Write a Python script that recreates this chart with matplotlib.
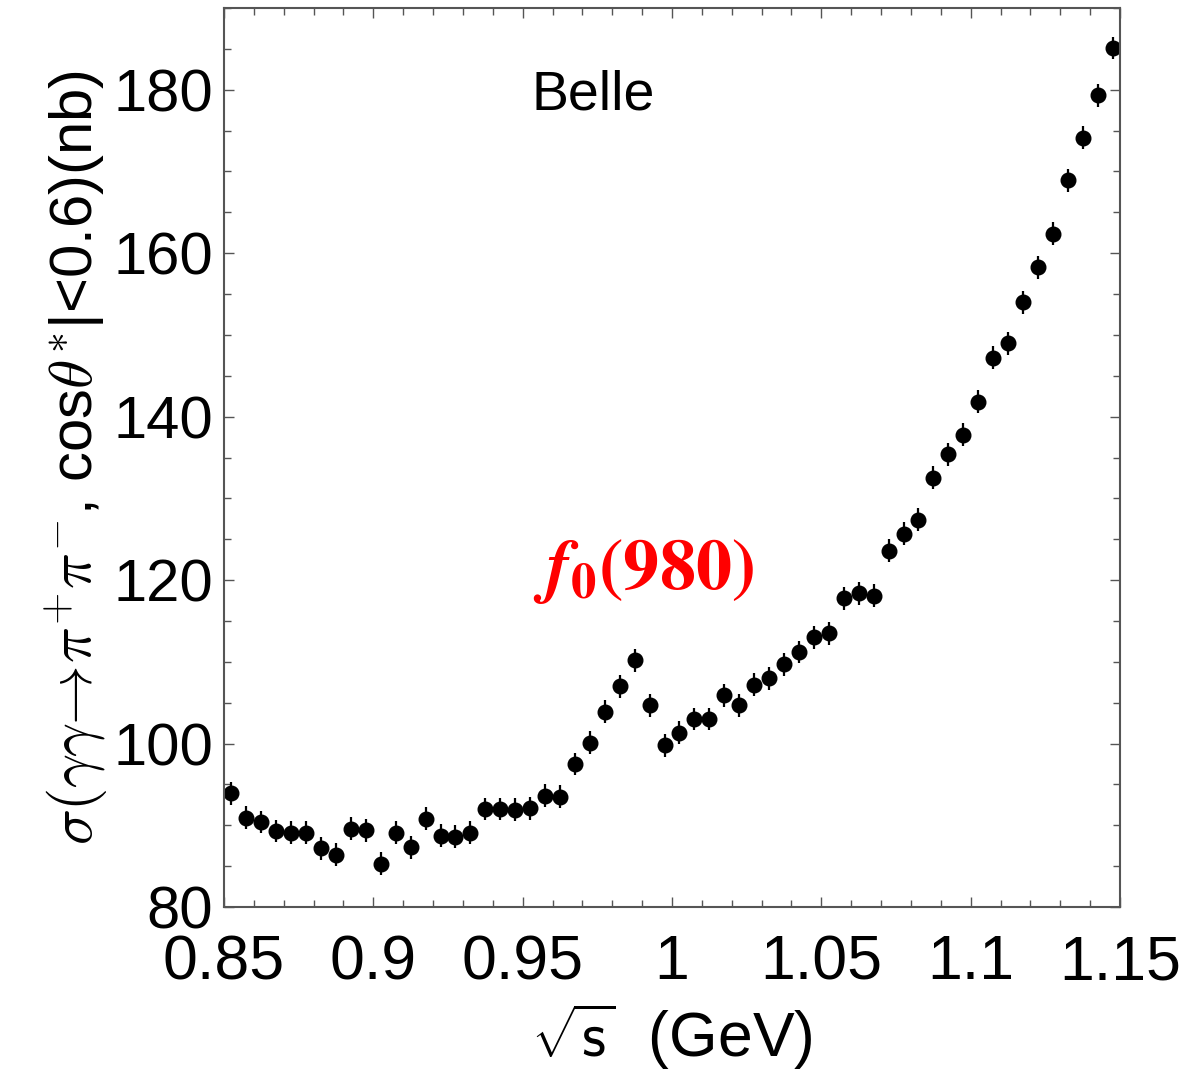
import numpy as np
import matplotlib.pyplot as plt
from matplotlib.ticker import MultipleLocator

plt.rcParams['font.family'] = ['Liberation Sans', 'DejaVu Sans']
plt.rcParams['mathtext.fontset'] = 'cm'

# sqrt(s) bin centres (GeV) and cross section (nb)
sqrt_s = np.arange(0.8525, 1.15, 0.005)
sigma = [93.9, 90.9, 90.4, 89.3, 89.1, 89.1, 87.2, 86.4, 89.6, 89.4,
         85.3, 89.1, 87.3, 90.8, 88.7, 88.6, 89.1, 92.0, 92.0, 91.9,
         92.1, 93.6, 93.5, 97.5, 100.1, 103.9, 107.0, 110.2, 104.7, 99.8,
         101.3, 103.0, 103.0, 105.9, 104.7, 107.2, 108.0, 109.7, 111.2, 113.0,
         113.5, 117.8, 118.4, 118.1, 123.6, 125.7, 127.4, 132.5, 135.4, 137.8,
         141.8, 147.2, 149.0, 154.0, 158.3, 162.4, 168.9, 174.1, 179.3, 185.1]
sigma_err = [1.4] * len(sigma)

fig = plt.figure(figsize=(11.87, 10.78), dpi=100)
ax = fig.add_axes([0.1887, 0.1586, 0.7549, 0.834])

ax.errorbar(sqrt_s, sigma, yerr=sigma_err, fmt='o', color='black',
            markersize=10.5, elinewidth=1.6, capsize=0)

ax.set_xlim(0.85, 1.15)
ax.set_ylim(80, 190)
ax.xaxis.set_major_locator(MultipleLocator(0.05))
ax.xaxis.set_minor_locator(MultipleLocator(0.01))
ax.yaxis.set_major_locator(MultipleLocator(20))
ax.yaxis.set_minor_locator(MultipleLocator(5))
ax.set_xticks([0.85, 0.9, 0.95, 1.0, 1.05, 1.1, 1.15])
ax.set_xticklabels(['0.85', '0.9', '0.95', '1', '1.05', '1.1', '1.15'])

ax.tick_params(which='both', direction='in', top=True, right=True,
               color='#555555', width=1.0)
ax.tick_params(which='major', length=7)
ax.tick_params(which='minor', length=5)
ax.tick_params(axis='x', labelsize=45, pad=19)
ax.tick_params(axis='y', labelsize=43, pad=8)
for s in ax.spines.values():
    s.set_color('#555555')
    s.set_linewidth(1.5)

ax.set_xlabel(r'$\sqrt{\mathsf{s}}$  (GeV)', fontsize=45, labelpad=6)
ax.set_ylabel(r'$\sigma(\gamma\gamma\!\rightarrow\!\pi^{+}\pi^{-}$, cos$\theta^{*}$|<0.6)(nb)',
              fontsize=43, labelpad=2)

ax.text(0.412, 0.903, 'Belle', transform=ax.transAxes, fontsize=40,
        ha='center', va='center')
ax.text(0.468, 0.373, r'$\mathbfit{f}_{\mathbf{0}}\mathbf{(980)}$', transform=ax.transAxes,
        fontsize=52, color='red', ha='center', va='center', math_fontfamily='stix')

fig.savefig('out.png', dpi=100)
